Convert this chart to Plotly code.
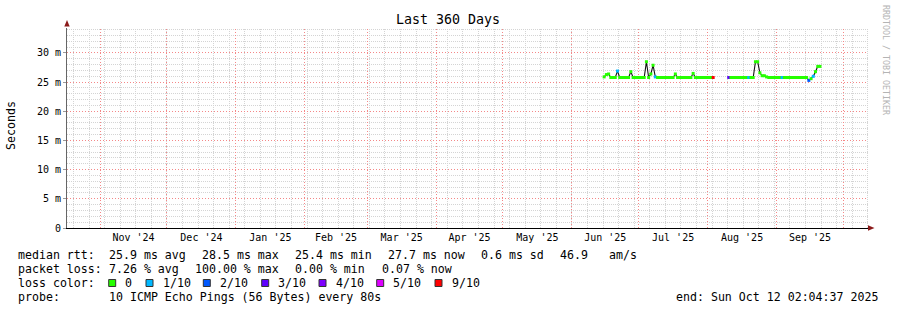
import plotly.graph_objects as go
import pandas as pd

# ---------------- data ----------------
SEG1_START = "2025-06-15 12:00"
SEG1_MEDIAN = [25.9, 26.3, 26.4, 25.8, 25.8, 25.8, 26.9, 25.8, 25.8, 25.8,
               25.8, 25.8, 26.8, 25.8, 25.8, 25.8, 25.8, 25.8, 25.8, 28.5,
               25.8, 26.4, 27.9, 25.9, 25.8, 25.8, 25.8, 25.8, 25.8, 25.8,
               25.8, 25.8, 26.4, 25.8, 25.8, 25.8, 25.8, 25.8, 25.8, 25.8,
               26.5, 25.8, 25.8, 25.8, 25.8, 25.8, 25.8, 25.8, 25.8, 25.8]
SEG1_LOSS = [0, 0, 0, 0, 0, 0, 1, 0, 0, 0,
             0, 0, 0, 0, 0, 0, 0, 0, 0, 0,
             0, 0, 0, 1, 0, 0, 0, 0, 0, 0,
             0, 0, 0, 0, 0, 0, 0, 0, 0, 0,
             0, 0, 0, 0, 0, 0, 0, 0, 0, 9]

SEG2_START = "2025-08-10 12:00"
SEG2_MEDIAN = [25.8, 25.8, 25.8, 25.8, 25.8, 25.8, 25.8, 25.8, 25.8, 25.8,
               25.8, 25.8, 28.5, 28.5, 26.6, 26.1, 26.1, 25.9, 25.8, 25.8,
               25.8, 25.8, 25.8, 25.8, 25.8, 25.8, 25.8, 25.8, 25.8, 25.8,
               25.8, 25.8, 25.8, 25.8, 25.8, 25.8, 25.3, 25.6, 26.0, 26.8,
               27.7, 27.7]
SEG2_LOSS = [3, 0, 0, 0, 0, 0, 0, 0, 0, 1,
             0, 0, 0, 0, 0, 0, 0, 0, 0, 0,
             0, 0, 0, 0, 1, 0, 0, 0, 0, 0,
             0, 0, 0, 0, 0, 0, 2, 0, 1, 0,
             0, 0]

LOSS_LABELS = ["0", "1/10", "2/10", "3/10", "4/10", "5/10", "9/10"]
LOSS_LEVELS = [0, 1, 2, 3, 4, 5, 9]
LOSS_COLORS = ["#26ff00", "#00b8ff", "#0059ff", "#5e00ff", "#7e00ff", "#dd00ff", "#ff0000"]

Y_TICKS = [0, 5, 10, 15, 20, 25, 30]
Y_TICKTEXT = ["0", "5 m", "10 m", "15 m", "20 m", "25 m", "30 m"]

X_START = "2024-10-17 02:04:37"
X_END = "2025-10-12 02:04:37"
FIRST_MONTH = "2024-11-01"
FIRST_SUNDAY = "2024-10-20"

TITLE = "Last 360 Days"
Y_TITLE = "Seconds"
RTT_PARTS = ["median rtt:", "25.9 ms avg", "28.5 ms max", "25.4 ms min", "27.7 ms now",
             "0.6 ms sd", "46.9", "am/s"]
LOSS_PARTS = ["packet loss:", "7.26 % avg", "100.00 % max", "0.00 % min", "0.07 % now"]
COLOR_LABEL = "loss color:"
PROBE_PARTS = ["probe:", "10 ICMP Echo Pings (56 Bytes) every 80s"]
LINE_END = "end: Sun Oct 12 02:04:37 2025"
WATERMARK = "RRDTOOL / TOBI OETIKER"

# ---------------- layout geometry ----------------
W, H = 897, 310
L, R, T, B = 67, 868, 28, 228
YMAX = (B - T) / 29.17 * 5
MONO = "DejaVu Sans Mono"
RTT_X = [16, 107.3, 200, 293.3, 385.7, 479.3, 557.7, 606.7]
LOSS_X = [16, 107.3, 193.3, 292.7, 380]
PROBE_X = [16, 107.3]
SQ_X = [108.7, 146, 203.3, 261.7, 319, 376.7, 435]


def px(x):
    return (x - L) / (R - L)


def py(y):
    return (B - y) / (B - T)


def nb(s):
    return s.replace(" ", "\u00a0")


color_of = dict(zip(LOSS_LEVELS, LOSS_COLORS))

fig = go.Figure()
for start, vals, loss in [(SEG1_START, SEG1_MEDIAN, SEG1_LOSS), (SEG2_START, SEG2_MEDIAN, SEG2_LOSS)]:
    dates = pd.date_range(start, periods=len(vals), freq="D")
    fig.add_trace(go.Scatter(x=dates, y=vals, mode="lines",
                             line=dict(color="#111111", width=1.1, shape="linear"),
                             hoverinfo="skip"))
    fig.add_trace(go.Scatter(x=dates, y=vals, mode="markers",
                             marker=dict(symbol="square", size=3,
                                         color=[color_of[l] for l in loss],
                                         line=dict(width=0)),
                             hoverinfo="skip"))

fig.update_layout(
    width=W, height=H,
    margin=dict(l=L, r=W - R, t=T, b=H - B, pad=0),
    paper_bgcolor="white", plot_bgcolor="white",
    showlegend=False,
    font=dict(family=MONO, size=10, color="black"),
    xaxis=dict(
        type="date", range=[X_START, X_END],
        dtick="M1", tick0=FIRST_MONTH, ticklabelmode="period",
        tickformat="%b '%y", tickfont=dict(family=MONO, size=10, color="black"),
        ticks="", showgrid=False,
        showline=True, linecolor="black", linewidth=1, zeroline=False,
    ),
    yaxis=dict(
        range=[0, YMAX],
        tickmode="array", tickvals=Y_TICKS, ticktext=Y_TICKTEXT,
        tickfont=dict(family=MONO, size=10, color="black"),
        ticks="outside", ticklen=3, tickcolor="#999999",
        showgrid=False,
        showline=True, linecolor="#666666", linewidth=1, zeroline=False,
    ),
)

# ---------------- grid (crisp 1px dotted lines) ----------------
t0 = pd.Timestamp(X_START)
t1 = pd.Timestamp(X_END)
span = (t1 - t0).total_seconds()


def xcol(ts):
    pix = L + (pd.Timestamp(ts) - t0).total_seconds() / span * (R - L)
    return px(int(pix) + 0.5)


def yrow(v):
    pix = B - v / YMAX * (B - T)
    return py(int(pix) + 0.5)


minor_col = "#d4d4d4"
major_col = "#f48888"
shapes = []


def grid_line(vertical, pos, col, dash):
    if vertical:
        d = dict(x0=pos, x1=pos, y0=0, y1=1)
    else:
        d = dict(x0=0, x1=1, y0=pos, y1=pos)
    d.update(type="line", xref="paper", yref="paper", layer="below",
             line=dict(color=col, width=1, dash=dash))
    shapes.append(d)


for d in pd.date_range(FIRST_SUNDAY, X_END, freq="7D"):
    grid_line(True, xcol(d), minor_col, "1px,1px")
for v in range(1, int(YMAX) + 1):
    if v % 5:
        grid_line(False, yrow(v), minor_col, "1px,1px")
for d in pd.date_range(FIRST_MONTH, X_END, freq="MS"):
    grid_line(True, xcol(d), major_col, "1px,2px")
for v in Y_TICKS[1:]:
    grid_line(False, yrow(v), major_col, "1px,2px")

ann = []


def text(x, y, s, size=11.6, xanchor="left", color="black", angle=0):
    ann.append(dict(x=px(x), y=py(y), xref="paper", yref="paper", text=nb(s),
                    showarrow=False, xanchor=xanchor, yanchor="middle",
                    textangle=angle, font=dict(family=MONO, size=size, color=color)))


text(448, 19, TITLE, size=13.3, xanchor="center")
text(11, 126, Y_TITLE, size=11.6, xanchor="center", angle=-90)
text(886, 60, WATERMARK, size=8.3, xanchor="center", color="#b4b4b4", angle=90)
for xx, s in zip(RTT_X, RTT_PARTS):
    text(xx, 254.5, s)
for xx, s in zip(LOSS_X, LOSS_PARTS):
    text(xx, 268.5, s)
text(16, 282.5, COLOR_LABEL)
for xx, s in zip(PROBE_X, PROBE_PARTS):
    text(xx, 296.5, s)
text(880, 296.5, LINE_END, xanchor="right")

for sx, lab, col in zip(SQ_X, LOSS_LABELS, LOSS_COLORS):
    shapes.append(dict(type="rect", xref="paper", yref="paper",
                       x0=px(sx), x1=px(sx + 7), y0=py(286.5), y1=py(279.5),
                       fillcolor=col, line=dict(color="#333333", width=1)))
    text(sx + 14.6, 282.5, lab)

# axis arrows
arrow = "#8b1a1a"
shapes.append(dict(type="path", xref="paper", yref="paper",
                   path=f"M {px(64.3)} {py(26.5)} L {px(69.7)} {py(26.5)} L {px(67)} {py(20)} Z",
                   fillcolor=arrow, line=dict(color=arrow, width=0)))
shapes.append(dict(type="path", xref="paper", yref="paper",
                   path=f"M {px(868)} {py(225.3)} L {px(868)} {py(230.7)} L {px(874.5)} {py(228)} Z",
                   fillcolor=arrow, line=dict(color=arrow, width=0)))

fig.update_layout(annotations=ann, shapes=shapes)

fig.write_html("out.html")
